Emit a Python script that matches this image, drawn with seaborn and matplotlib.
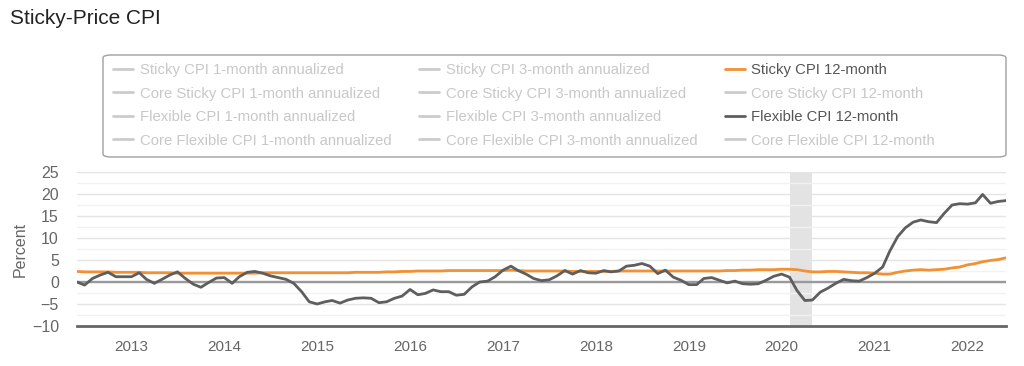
import numpy as np
import pandas as pd
import matplotlib
matplotlib.use("Agg")
import matplotlib.pyplot as plt
import matplotlib.dates as mdates
from matplotlib.lines import Line2D
from matplotlib.patches import FancyBboxPatch
import seaborn as sns

# Monthly data, Jun 2012 - Jun 2022
start_month = "2012-06-01"

flexible_12m = [
    # 2012 Jun-Dec
    0.0, -0.7, 0.8, 1.6, 2.2, 1.2, 1.2,
    # 2013
    1.2, 2.1, 0.6, -0.3, 0.6, 1.6, 2.3, 0.8, -0.5, -1.2, -0.1, 0.9,
    # 2014
    1.0, -0.3, 1.2, 2.2, 2.4, 2.0, 1.4, 1.0, 0.6, -0.3, -2.2, -4.5,
    # 2015
    -5.0, -4.5, -4.2, -4.8, -4.1, -3.7, -3.6, -3.7, -4.7, -4.5, -3.7, -3.2,
    # 2016
    -1.7, -2.9, -2.6, -1.8, -2.2, -2.2, -3.0, -2.8, -1.1, 0.0, 0.2, 1.2,
    # 2017
    2.7, 3.6, 2.6, 1.8, 0.8, 0.3, 0.5, 1.4, 2.6, 1.8, 2.6, 2.1,
    # 2018
    2.0, 2.6, 2.3, 2.5, 3.6, 3.8, 4.2, 3.6, 1.9, 2.7, 1.1, 0.4,
    # 2019
    -0.6, -0.6, 0.8, 1.0, 0.4, -0.2, 0.2, -0.4, -0.5, -0.4, 0.4, 1.3,
    # 2020
    1.8, 1.1, -1.9, -4.2, -4.1, -2.3, -1.4, -0.3, 0.6, 0.3, 0.2, 1.0,
    # 2021
    2.0, 3.4, 7.0, 10.3, 12.3, 13.6, 14.1, 13.7, 13.5, 15.6, 17.5, 17.8,
    # 2022 Jan-Jun
    17.7, 18.0, 19.9, 17.9, 18.3, 18.5,
]

sticky_12m = [
    2.4, 2.3, 2.3, 2.3, 2.3, 2.2, 2.2,
    2.2, 2.2, 2.1, 2.1, 2.1, 2.1, 2.0, 2.0, 2.0, 2.0, 2.0, 2.0,
    2.0, 2.0, 2.0, 2.0, 2.0, 2.1, 2.1, 2.1, 2.1, 2.1, 2.1, 2.1,
    2.1, 2.1, 2.1, 2.1, 2.1, 2.2, 2.2, 2.2, 2.2, 2.3, 2.3, 2.4,
    2.4, 2.5, 2.5, 2.5, 2.5, 2.6, 2.6, 2.6, 2.6, 2.6, 2.6, 2.6,
    2.6, 2.7, 2.6, 2.5, 2.5, 2.5, 2.5, 2.5, 2.5, 2.4, 2.4, 2.4,
    2.4, 2.4, 2.4, 2.5, 2.5, 2.5, 2.5, 2.5, 2.5, 2.5, 2.5, 2.5,
    2.5, 2.5, 2.5, 2.5, 2.5, 2.6, 2.6, 2.7, 2.7, 2.8, 2.8, 2.8,
    2.9, 2.9, 2.8, 2.5, 2.3, 2.3, 2.4, 2.4, 2.3, 2.2, 2.1, 2.1,
    2.0, 1.8, 1.8, 2.2, 2.5, 2.7, 2.8, 2.7, 2.8, 2.9, 3.2, 3.4,
    3.9, 4.2, 4.6, 4.9, 5.1, 5.5,
]

recession = ("2020-02-01", "2020-04-30")

legend_labels = [
    "Sticky CPI 1-month annualized", "Core Sticky CPI 1-month annualized",
    "Flexible CPI 1-month annualized", "Core Flexible CPI 1-month annualized",
    "Sticky CPI 3-month annualized", "Core Sticky CPI 3-month annualized",
    "Flexible CPI 3-month annualized", "Core Flexible CPI 3-month annualized",
    "Sticky CPI 12-month", "Core Sticky CPI 12-month",
    "Flexible CPI 12-month", "Core Flexible CPI 12-month",
]
active = {"Sticky CPI 12-month": "#f39033", "Flexible CPI 12-month": "#5e5e5e"}

dates = pd.date_range(start_month, periods=len(flexible_12m), freq="MS")
df = pd.DataFrame({"date": dates, "sticky": sticky_12m, "flexible": flexible_12m})

sns.set_style("white")
plt.rcParams["font.family"] = ["Liberation Sans", "DejaVu Sans"]

W, H = 1024, 366
fig = plt.figure(figsize=(W / 100, H / 100), dpi=100)
ax = fig.add_axes([77 / W, 1 - 326 / H, 929 / W, 154 / H])

ax.axvspan(pd.Timestamp(recession[0]), pd.Timestamp(recession[1]),
           color="#e3e3e3", lw=0, zorder=0)
ax.axhline(0, color="#9a9a9a", lw=1.7, zorder=1)
sns.lineplot(data=df, x="date", y="sticky", color=active["Sticky CPI 12-month"],
             lw=2, ax=ax, zorder=3)
sns.lineplot(data=df, x="date", y="flexible", color=active["Flexible CPI 12-month"],
             lw=2, ax=ax, zorder=4)

ax.set_xlim(dates[0], dates[-1])
ax.set_ylim(-10, 25)
ax.set_yticks(np.arange(-10, 26, 5))
ax.set_yticks(np.arange(-10, 26, 2.5), minor=True)
ax.grid(axis="y", which="major", color="#e4e4e4", lw=1)
ax.grid(axis="y", which="minor", color="#f2f2f2", lw=1)
ax.set_axisbelow(True)
ax.xaxis.set_major_locator(mdates.YearLocator())
ax.xaxis.set_major_formatter(mdates.DateFormatter("%Y"))
for s in ["top", "right", "left"]:
    ax.spines[s].set_visible(False)
ax.spines["bottom"].set_color("#666666")
ax.spines["bottom"].set_linewidth(2)
ax.tick_params(axis="x", which="major", length=5, width=1, color="#bbbbbb",
               labelcolor="#666666", labelsize=11, pad=5)
ax.tick_params(axis="y", which="both", length=0, labelcolor="#666666",
               labelsize=11.5, pad=13)
ax.set_xlabel("")
ax.set_ylabel("Percent", color="#666666", fontsize=11.5, labelpad=3)

fig.text(10 / W, 1 - 18 / H, "Sticky-Price CPI", fontsize=15, color="#222222",
         ha="left", va="center")

# legend box with fixed width
box = FancyBboxPatch((103 / W, 1 - 157 / H), 903 / W, 102 / H,
                     boxstyle="round,pad=0,rounding_size=0.008",
                     transform=fig.transFigure, facecolor="white",
                     edgecolor="#a0a0a0", lw=1)
fig.patches.append(box)

handles = [Line2D([], [], color=active.get(l, "#cccccc"), lw=2) for l in legend_labels]
leg = fig.legend(handles, legend_labels, loc="upper left",
                 bbox_to_anchor=(113 / W, 1 - 63 / H), ncol=3, fontsize=10.7,
                 frameon=False, handlelength=1.33, handletextpad=0.47,
                 columnspacing=1.85, labelspacing=0.64, borderpad=0,
                 borderaxespad=0)
for t in leg.get_texts():
    t.set_color("#555555" if t.get_text() in active else "#c8c8c8")

fig.savefig("out.png", dpi=100, facecolor="white")
